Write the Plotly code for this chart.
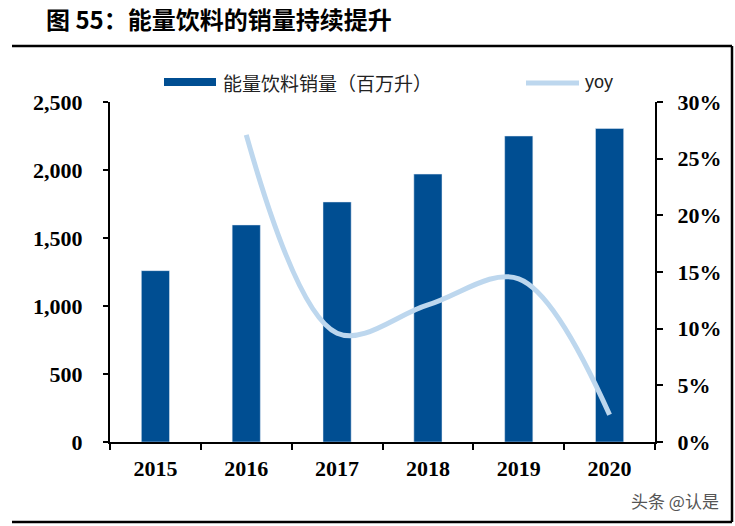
import plotly.graph_objects as go

years = ["2015", "2016", "2017", "2018", "2019", "2020"]
volume = [1260, 1596, 1765, 1970, 2250, 2305]
yoy_years = ["2016", "2017", "2018", "2019", "2020"]
yoy = [0.271, 0.096, 0.121, 0.144, 0.024]

BAR = "#004E92"
LINE = "#BDD7EE"

W, H = 735, 526
L, R, T, B = 110, 655, 102, 442


def px(x):
    return (x - L) / (R - L)


def py(y):
    return (B - y) / (B - T)


fig = go.Figure()
fig.add_trace(go.Bar(x=years, y=volume, marker_color=BAR, width=0.31,
                     name="能量饮料销量（百万升）", yaxis="y"))
fig.add_trace(go.Scatter(x=yoy_years, y=yoy, mode="lines", line=dict(color=LINE, width=5, shape="spline", smoothing=1.0),
                         name="yoy", yaxis="y2"))

tickfont = dict(family="Liberation Serif", size=22, color="black", weight="bold")
fig.update_layout(
    width=W, height=H,
    margin=dict(l=L, r=W - R, t=T, b=H - B),
    paper_bgcolor="white", plot_bgcolor="white",
    showlegend=False,
    xaxis=dict(type="category", showline=True, linecolor="black", linewidth=2,
               ticks="outside", tickson="boundaries", ticklen=6, tickwidth=2, tickcolor="black",
               tickfont=tickfont, showgrid=False, ticklabelstandoff=6),
    yaxis=dict(range=[0, 2500], dtick=500, tickformat=",", showline=True, linecolor="black", linewidth=2,
               ticks="outside", ticklen=5, tickwidth=2, tickcolor="black", tickfont=tickfont,
               showgrid=False, zeroline=False, ticklabelstandoff=16),
    yaxis2=dict(range=[0, 0.30], dtick=0.05, tickformat=".0%", overlaying="y", side="right",
                showline=True, linecolor="black", linewidth=2, ticks="outside", ticklen=6, tickwidth=2,
                tickcolor="black", tickfont=tickfont, showgrid=False, zeroline=False, ticklabelstandoff=10),
    font=dict(family="Noto Sans CJK SC"),
)

# Frame lines
frame = dict(color="black", width=2.5)
fig.add_shape(type="line", xref="paper", yref="paper", x0=px(12), x1=px(732), y0=py(46), y1=py(46), line=frame)
fig.add_shape(type="line", xref="paper", yref="paper", x0=px(732), x1=px(732), y0=py(46), y1=py(522), line=frame)
fig.add_shape(type="line", xref="paper", yref="paper", x0=px(12), x1=px(732), y0=py(522), y1=py(522), line=frame)

# Legend (manual)
fig.add_shape(type="rect", xref="paper", yref="paper", x0=px(164), x1=px(216), y0=py(86), y1=py(78),
              fillcolor=BAR, line=dict(width=0))
fig.add_annotation(xref="paper", yref="paper", x=px(221), y=py(82), text="能量饮料销量（百万升）",
                   showarrow=False, xanchor="left", yanchor="middle",
                   font=dict(family="Noto Sans CJK SC", size=19, color="#222"))
fig.add_shape(type="line", xref="paper", yref="paper", x0=px(526), x1=px(579), y0=py(83), y1=py(83),
              line=dict(color=LINE, width=5))
fig.add_annotation(xref="paper", yref="paper", x=px(583), y=py(82), text="yoy",
                   showarrow=False, xanchor="left", yanchor="middle",
                   font=dict(family="Liberation Sans", size=18, color="#222"))

# Title
fig.add_annotation(xref="paper", yref="paper", x=px(44), y=py(18), text="<b>图 55：能量饮料的销量持续提升</b>",
                   showarrow=False, xanchor="left", yanchor="middle",
                   font=dict(family="Noto Sans CJK SC", size=24, color="black"))

# Watermark
fig.add_annotation(xref="paper", yref="paper", x=px(721), y=py(500), text="头条 @认是",
                   showarrow=False, xanchor="right", yanchor="middle",
                   font=dict(family="Noto Sans CJK SC", size=17, color="#555"))

fig.write_html("out.html", post_script="document.body.style.margin='0';",
               config={"displayModeBar": False})
